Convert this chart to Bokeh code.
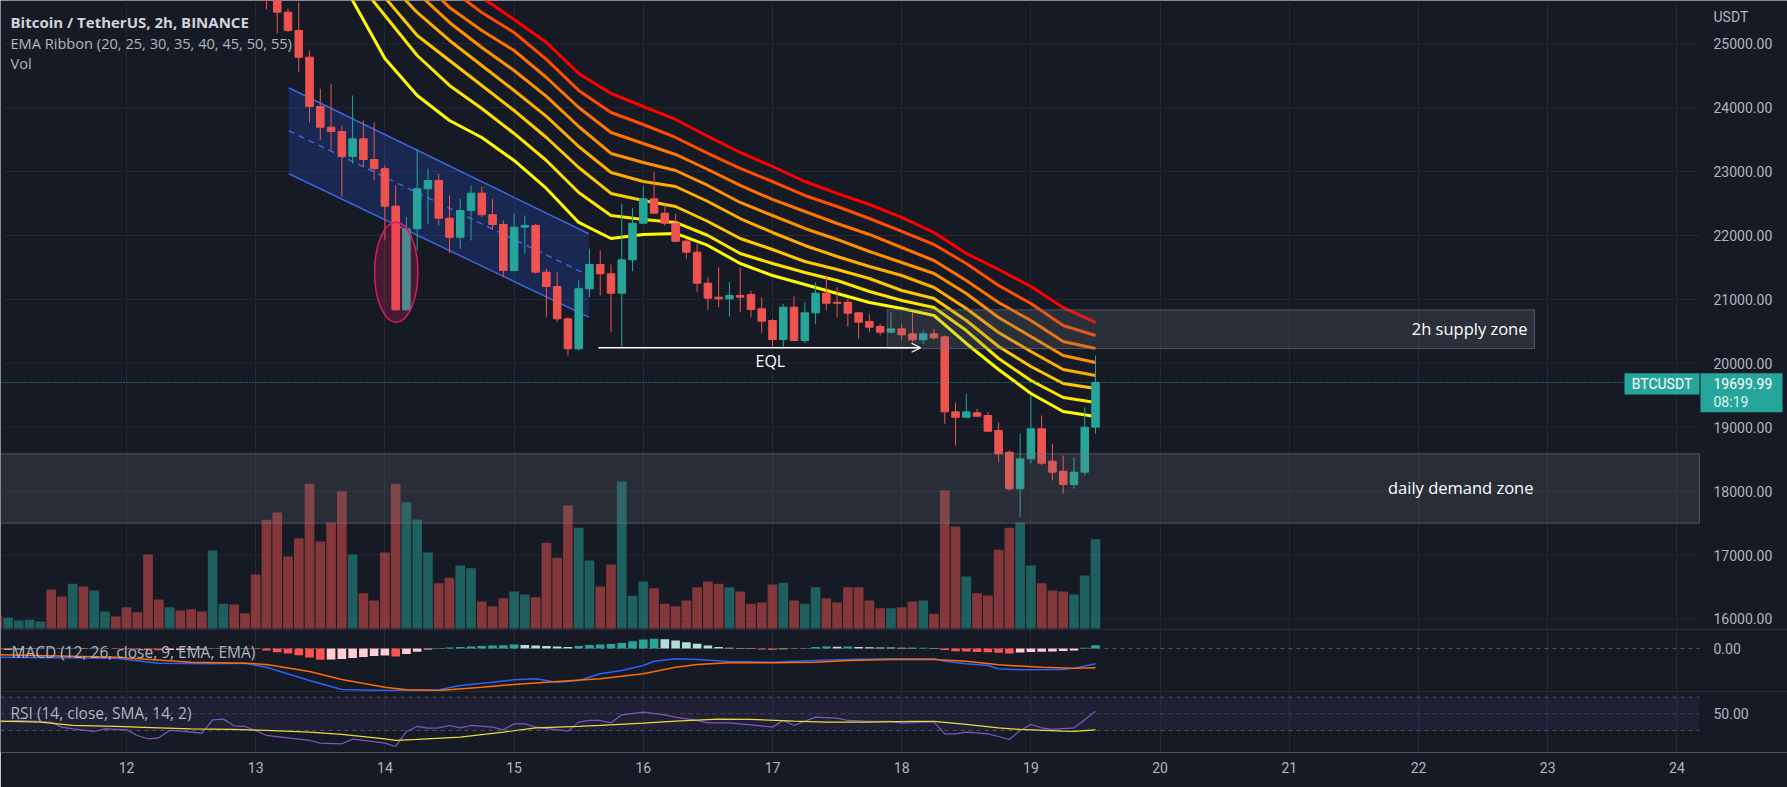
from bokeh.plotting import figure
from bokeh.models import Range1d, FixedTicker, Span, Label, Arrow, OpenHead
from bokeh.core.properties import value
from bokeh.embed import file_html
from bokeh.resources import INLINE

# ---------------- data ----------------
first_day = 11.0          # bar 0 opens on the 11th at 00:00
bars_per_day = 12         # 2h bars
day_ticks = list(range(11, 25))
price_ticks = [16000, 17000, 18000, 19000, 20000, 21000, 22000, 23000, 24000, 25000]

volume = [1300, 1070, 800, 870, 700, 3900, 3200, 4470, 4200, 3800,
          1700, 1200, 2130, 1630, 7400, 2900, 2130, 1800, 1930, 1700,
          7800, 2470, 2400, 1530, 5400, 10870, 11600, 7200, 9030, 14470,
          8700, 10600, 13730, 7400, 3530, 2800, 7600, 14470, 12630, 10900,
          7600, 4530, 5070, 6300, 6030, 2700, 2230, 3030, 3700, 3400,
          3130, 8570, 7070, 12300, 10070, 6800, 4200, 6400, 14700, 3270,
          4700, 4030, 2470, 2230, 2800, 4130, 4700, 4470, 4130, 3700,
          2470, 2600, 4400, 4570, 2800, 2470, 4130, 3000, 2600, 4130,
          4130, 2800, 2030, 2030, 2130, 2700, 2800, 1470, 13800, 10200,
          5200, 3530, 3300, 7870, 10070, 10600, 6300, 4530, 3800, 3700,
          3400, 5300, 8930]
volume_up = [0, 1, 1, 1, 1, 0, 0, 1, 0, 1,
             1, 0, 0, 0, 0, 0, 1, 0, 0, 0,
             1, 1, 0, 0, 0, 0, 0, 0, 0, 0,
             0, 0, 0, 1, 0, 0, 0, 0, 1, 1,
             1, 0, 0, 1, 1, 0, 0, 0, 1, 1,
             0, 0, 0, 0, 1, 1, 0, 0, 1, 1,
             1, 0, 0, 0, 0, 0, 0, 0, 1, 0,
             0, 0, 0, 1, 0, 1, 1, 0, 0, 0,
             0, 0, 0, 1, 0, 0, 1, 0, 0, 0,
             1, 0, 0, 0, 0, 1, 1, 0, 0, 0,
             1, 1, 1]

candle_first_bar = 25
open_ = [26200, 25900, 25495, 25208, 24790, 24019, 23695, 23627, 23236, 23513,
         23189, 23044, 22459, 20837, 22105, 22731, 22861, 22271, 21973, 22391,
         22662, 22324, 22172, 21452, 22130, 22157, 21426, 21202, 20696, 20227,
         21166, 21546, 21400, 21097, 21620, 22192, 22574, 22349, 22192, 21911,
         21739, 21253, 21034, 21009, 21061, 21077, 20853, 20670, 20372, 20878,
         20357, 20790, 21097, 20956, 20956, 20790, 20654, 20576, 20487, 20539,
         20461, 20367, 20461, 20414, 19240, 19156, 19225, 19183, 18948, 18609,
         18036, 18505, 18975, 18468, 18311, 18103, 18296, 19000]
high = [26300, 25960, 25552, 25651, 24895, 24296, 24374, 23721, 24191, 23800,
        23773, 23095, 22782, 22286, 23357, 23044, 22965, 22626, 22574, 22782,
        22767, 22574, 22235, 22340, 22313, 22183, 21478, 21426, 20721, 21296,
        21791, 21765, 21546, 22496, 22433, 22782, 22990, 22496, 22340, 21948,
        21870, 21347, 21504, 21270, 21494, 21139, 21034, 20696, 20931, 21045,
        20956, 21270, 21358, 21191, 21009, 20800, 20774, 20618, 20800, 20618,
        20800, 20513, 20534, 20435, 19390, 19522, 19287, 19235, 19078, 18635,
        18897, 19496, 19183, 18740, 18557, 18531, 19313, 20122]
low = [25540, 25161, 25182, 24556, 23773, 23488, 23330, 22599, 23127, 23069,
       22861, 21922, 20822, 20826, 21765, 22183, 22156, 21723, 21792, 21922,
       22286, 22089, 21347, 21452, 21713, 21400, 20721, 20643, 20122, 20200,
       21034, 21061, 20487, 20252, 21441, 22183, 22340, 22156, 21895, 21635,
       21113, 20837, 20878, 20732, 20800, 20721, 20471, 20242, 20227, 20346,
       20315, 20618, 20826, 20721, 20576, 20383, 20487, 20435, 20471, 20357,
       20330, 20305, 20367, 19053, 18713, 19156, 19156, 18922, 18452, 18009,
       17600, 18437, 18400, 18166, 17958, 18036, 18244, 18897]
close = [25900, 25495, 25208, 24790, 24019, 23695, 23627, 23236, 23513, 23189,
         23044, 22459, 20837, 22105, 22731, 22861, 22271, 21973, 22391, 22662,
         22324, 22172, 21452, 22130, 22157, 21426, 21202, 20696, 20227, 21166,
         21546, 21400, 21097, 21620, 22192, 22574, 22349, 22192, 21911, 21739,
         21253, 21019, 21009, 21061, 21035, 20842, 20659, 20372, 20878, 20357,
         20790, 21097, 20940, 20940, 20784, 20643, 20565, 20487, 20539, 20446,
         20367, 20461, 20399, 19240, 19156, 19240, 19172, 18937, 18583, 18036,
         18505, 18975, 18437, 18296, 18103, 18296, 19000, 19699.99]
last_price = 19699.99
countdown = "08:19"
symbol = "BTCUSDT"

# EMA ribbon, read at every third bar
ema_bars = [30, 33, 36, 39, 42, 45, 48, 51, 54, 57, 60, 63, 66, 69, 72, 75, 78, 81, 84,
            87, 90, 93, 96, 99, 102]
ema20 = [26460, 25678, 24770, 24191, 23800, 23534, 23174, 22736, 22204, 21953, 22016, 22032,
         21844, 21562, 21374, 21233, 21093, 20952, 20858, 20748, 20310, 19903, 19528, 19246, 19168]
ema25 = [26774, 26069, 25443, 24817, 24348, 23988, 23597, 23174, 22673, 22313, 22251, 22204,
         22000, 21719, 21562, 21421, 21296, 21124, 20983, 20873, 20513, 20075, 19731, 19465, 19387]
ema30 = [27008, 26382, 25725, 25130, 24739, 24348, 23956, 23534, 23064, 22658, 22548, 22454,
         22219, 21953, 21781, 21593, 21468, 21327, 21139, 21014, 20670, 20263, 19950, 19684, 19606]
ema35 = [27243, 26648, 26022, 25490, 25052, 24661, 24270, 23863, 23393, 22986, 22845, 22767,
         22532, 22266, 22047, 21844, 21672, 21515, 21374, 21186, 20858, 20482, 20185, 19903, 19809]
ema40 = [27478, 26930, 26304, 25803, 25334, 24942, 24582, 24176, 23706, 23284, 23143, 23017,
         22783, 22517, 22313, 22110, 21938, 21750, 21578, 21406, 21093, 20717, 20420, 20122, 20013]
ema45 = [27681, 27165, 26539, 26069, 25568, 25208, 24895, 24473, 24003, 23612, 23440, 23268,
         23033, 22783, 22564, 22376, 22188, 22016, 21812, 21609, 21296, 20952, 20670, 20341, 20232]
ema50 = [27869, 27400, 26852, 26382, 25866, 25490, 25177, 24755, 24270, 23925, 23737, 23534,
         23284, 23049, 22845, 22626, 22454, 22266, 22063, 21859, 21562, 21218, 20936, 20592, 20435]
ema55 = [28026, 27587, 27087, 26648, 26148, 25725, 25381, 25021, 24536, 24223, 24019, 23816,
         23550, 23299, 23080, 22845, 22658, 22485, 22282, 22047, 21719, 21468, 21202, 20873, 20639]

# MACD (12, 26, 9): histogram per bar, lines read at selected bars
macd_hist = [-30, -24, -18, -12, -6, 4, 8, 12, 10, 6, -4, -10, -16, -20, -32, -36, -30, -28,
             -24, -18, -6, -4, -8, -6,
             -10, -40, -74, -100, -134, -180, -226, -220, -210, -190, -170, -150, -140, -160,
             -110, -66, -20,
             10, 20, 30, 40, 50, 60, 66, 80, 70, 60, 50, 40, 30, 50, 70,
             80, 90, 110, 146, 180, 194, 186, 160, 126, 94, 60, 30, 14, 12, 10,
             -20, -26, -14, -6, 10, 30, 40, 36, 40, 30, 24, 20, 20, 16, 14, 16, 10,
             -30, -54, -60, -70, -74, -86, -100, -80, -70, -64, -60, -50, -40, 14, 64]
macd_bars = [0, 11, 15, 20, 23, 25, 29, 32, 36, 41, 43, 46, 48, 50, 52, 54, 56, 58, 60, 61,
             63, 65, 68, 72, 76, 79, 83, 87, 88, 90, 92, 93, 95, 99, 100, 102]
macd_line = [-174, -194, -294, -306, -294, -374, -640, -820, -840, -826, -740, -674, -626,
             -606, -674, -640, -506, -440, -340, -254, -206, -220, -260, -274, -240, -220,
             -206, -206, -254, -306, -340, -406, -426, -420, -394, -306]
signal_bars = [0, 11, 18, 23, 25, 29, 32, 36, 38, 41, 45, 48, 52, 56, 60, 63, 65, 68, 72, 76,
               79, 83, 87, 90, 93, 97, 100, 102]
signal_line = [-126, -174, -274, -294, -320, -460, -620, -774, -826, -840, -774, -720, -660,
               -606, -506, -374, -320, -286, -286, -274, -240, -220, -220, -254, -326, -374,
               -394, -386]

# RSI (14) and its SMA (14)
rsi_bars = [0, 2, 5, 6, 7, 9, 10, 12, 13, 14, 15, 16, 17, 19, 20, 21, 22, 23, 24, 25, 27, 29,
            30, 32, 33, 34, 36, 37, 38, 39, 40, 41, 42, 43, 44, 46, 47, 48, 49, 50, 52, 53,
            54, 55, 56, 57, 58, 60, 62, 63, 65, 66, 68, 70, 72, 73, 74, 76, 78, 79, 81, 83,
            84, 86, 87, 88, 89, 90, 92, 93, 94, 95, 96, 97, 98, 100, 101, 102]
rsi = [40, 42, 40, 34, 32, 28.8, 32, 30.8, 24, 20, 21.2, 30, 29.2, 26.8, 42.8, 43.6, 35.6,
       34.8, 30, 24, 21.2, 18, 14.8, 14, 19.6, 18, 14.8, 10.8, 28.8, 34.8, 32.8, 33.2, 36,
       33.2, 36, 34, 30.8, 38, 38, 34, 30.8, 29.2, 40, 42, 42, 39.2, 48.8, 52, 48.8, 46, 42,
       39.2, 39.2, 36.8, 34, 42, 36, 46, 44.8, 42, 40.8, 40.8, 38.8, 40, 40, 26, 26, 28, 26,
       22.8, 19.2, 30, 37.2, 33.2, 31.2, 33.2, 42.8, 53.2]
rsi_ma_bars = [0, 4, 7, 11, 15, 18, 22, 25, 29, 32, 36, 37, 39, 43, 47, 50, 54, 56, 60, 63,
               67, 70, 74, 77, 81, 85, 87, 90, 93, 95, 99, 100, 102]
rsi_ma = [41.2, 40, 36, 34.8, 33.2, 32, 31.2, 30, 28, 25.2, 20, 18, 19.2, 22, 28, 33.2, 34.8,
          36, 38.8, 41.2, 43.6, 43.2, 41.2, 40, 40, 40.8, 40.8, 37.2, 33.2, 31.2, 29.2, 28.8,
          30.8]
rsi_levels = [70, 50, 30]

# drawings
channel_days = [13.256, 15.578]
channel_top = [24312, 22027]
channel_bottom = [22966, 20722]
circle_day, circle_price, circle_w_days, circle_h_price = 14.0875, 21426, 0.335, 1565
eql_days = [15.653, 18.146]
eql_price = 20243
supply_days = [17.888, 22.898]
supply_prices = [20230, 20837]
demand_prices = [17498, 18584]

# ---------------- layout helpers (screen px -> data) ----------------
W, H = 1787, 787
PANE_R, FR_B = 1699, 752   # right edge of the chart panes, bottom of the frame


def dx(px):
    return 12 + (px - 126) / 129.2


def py(px):
    return 25000 - (px - 43.3) / 0.0639


def bar_day(i):
    return first_day + i / bars_per_day


X0, XR = dx(0), dx(PANE_R)
BG = "#161a25"
UP, DOWN = "#26a69a", "#ef5350"
TXT = "#b2b5be"
GRID = "#242834"
FONT = "Open Sans"

p = figure(width=W, height=H, x_range=Range1d(dx(0), dx(W)),
           y_range=Range1d(py(FR_B), py(0)), output_backend="svg", toolbar_location=None,
           y_axis_location=None, min_border_left=0, min_border_top=0,
           min_border_right=0, min_border_bottom=H - FR_B,
           background_fill_color=BG, border_fill_color=BG, outline_line_color=None)

p.extra_y_ranges = {
    "vol": Range1d(-(FR_B - 628) * 100, 628 * 100),
    "macd": Range1d(-(FR_B - 648) * 20, 648 * 20),
    "rsi": Range1d(50 - (FR_B - 713.3) * 1.2, 50 + 713.3 * 1.2),
}

# x axis & vertical grid
xax = p.xaxis[0]
xax.ticker = FixedTicker(ticks=day_ticks)
xax.axis_line_color = None
xax.major_tick_line_color = None
xax.minor_tick_line_color = None
xax.major_tick_out = 0
xax.major_tick_in = 0
xax.major_label_standoff = 9
xax.major_label_text_color = TXT
xax.major_label_text_font = "Roboto"
xax.major_label_text_font_size = "14px"
p.xgrid.ticker = FixedTicker(ticks=day_ticks)
p.xgrid.grid_line_color = GRID
p.ygrid.visible = False

# horizontal price grid (main pane only) + price scale labels
p.segment(x0=[X0] * len(price_ticks), y0=price_ticks, x1=[XR] * len(price_ticks),
          y1=price_ticks, line_color=GRID, line_width=1)
p.text(x=[dx(1713)] * len(price_ticks), y=price_ticks, text=["%.2f" % t for t in price_ticks],
       text_font=value("Roboto"), text_font_size="14px", text_color=TXT,
       text_baseline="middle", text_align="left")

# ---------------- volume ----------------
n = len(volume)
vol_days = [bar_day(i) for i in range(n)]
vol_cols = [UP if u else DOWN for u in volume_up]
p.vbar(x=vol_days, top=volume, bottom=0, width=0.9 / bars_per_day, y_range_name="vol",
       fill_color=vol_cols, fill_alpha=0.5, line_color=None)

# ---------------- channel ----------------
ch_mid = [(a + b) / 2 for a, b in zip(channel_top, channel_bottom)]
p.patch(x=channel_days + channel_days[::-1], y=channel_top + channel_bottom[::-1],
        fill_color="#2962ff", fill_alpha=0.2, line_color=None)
p.line(channel_days, channel_top, line_color="#3f63e0", line_width=1.5)
p.line(channel_days, channel_bottom, line_color="#3f63e0", line_width=1.5)
p.line(channel_days, ch_mid, line_color="#3f63e0", line_width=1.5, line_dash="6 5")

# ---------------- EMA ribbon ----------------
ema_days = [bar_day(i) for i in ema_bars]
ribbon = [ema55, ema50, ema45, ema40, ema35, ema30, ema25, ema20]
ribbon_cols = ["#ff0000", "#ff4d00", "#ff7300", "#ff9100", "#ffad00", "#ffc800", "#ffe400",
               "#ffff00"]
for vals, col in zip(ribbon, ribbon_cols):
    p.line(ema_days, vals, line_color=col, line_width=3, line_join="round")

# ---------------- candles ----------------
c_days = [bar_day(candle_first_bar + k) for k in range(len(close))]
c_cols = [UP if c >= o else DOWN for o, c in zip(open_, close)]
p.segment(x0=c_days, y0=low, x1=c_days, y1=high, line_color=c_cols, line_width=1)
p.vbar(x=c_days, top=[max(o, c) for o, c in zip(open_, close)],
       bottom=[min(o, c) for o, c in zip(open_, close)], width=0.7 / bars_per_day,
       fill_color=c_cols, line_color=c_cols, line_width=1)

# circle around the capitulation candles
p.ellipse(x=[circle_day], y=[circle_price], width=[circle_w_days], height=[circle_h_price],
          fill_color="#e91e63", fill_alpha=0.22, line_color="#d81b60", line_width=1.5)

# zones
p.quad(left=[X0 - 0.1], right=[XR], bottom=[demand_prices[0]], top=[demand_prices[1]],
       fill_color="#787b86", fill_alpha=0.2, line_color="#787b86", line_alpha=0.55,
       line_width=1)
p.quad(left=[supply_days[0]], right=[supply_days[1]], bottom=[supply_prices[0]],
       top=[supply_prices[1]], fill_color="#787b86", fill_alpha=0.22,
       line_color="#787b86", line_alpha=0.55, line_width=1)

# EQL arrow
p.add_layout(Arrow(x_start=eql_days[0], y_start=eql_price, x_end=eql_days[1], y_end=eql_price,
                   line_color="white", line_width=1.3,
                   end=OpenHead(size=9, line_color="white", line_width=1.3)))

# current price: dotted line, symbol tag and price box on the scale
p.segment(x0=[X0], y0=[last_price], x1=[dx(1624)], y1=[last_price], line_color=UP,
          line_dash="1 2", line_width=1)
p.quad(left=[dx(1624)], right=[dx(1699)], top=[py(372.7)], bottom=[py(394)],
       fill_color=UP, line_color=None)
p.quad(left=[dx(1700)], right=[dx(1782)], top=[py(372.7)], bottom=[py(411.7)],
       fill_color=UP, line_color=None)

# ---------------- MACD pane ----------------
h_cols = []
prev = 0
for h in macd_hist:
    if h >= 0:
        h_cols.append("#26a69a" if h > prev else "#b2dfdb")
    else:
        h_cols.append("#ff5252" if h < prev else "#ffcdd2")
    prev = h
p.vbar(x=vol_days, top=macd_hist, bottom=0, width=0.8 / bars_per_day, y_range_name="macd",
       fill_color=h_cols, line_color=None)
p.segment(x0=[X0], y0=[0], x1=[XR], y1=[0], y_range_name="macd", line_color="#787b86",
          line_alpha=0.6, line_dash="4 4", line_width=1)
p.line([bar_day(i) for i in macd_bars], macd_line, y_range_name="macd", line_color="#2962ff",
       line_width=1.5)
p.line([bar_day(i) for i in signal_bars], signal_line, y_range_name="macd",
       line_color="#ff6d00", line_width=1.5)

# ---------------- RSI pane ----------------
p.quad(left=[X0 - 0.1], right=[XR], bottom=[rsi_levels[2]], top=[rsi_levels[0]],
       y_range_name="rsi", fill_color="#7e57c2", fill_alpha=0.1, line_color=None)
p.segment(x0=[X0] * 3, y0=rsi_levels, x1=[XR] * 3, y1=rsi_levels, y_range_name="rsi",
          line_color="#787b86", line_alpha=[0.6, 0.45, 0.6], line_dash="4 4", line_width=1)
p.line([bar_day(i) for i in rsi_bars], rsi, y_range_name="rsi", line_color="#7e57c2",
       line_width=1.2)
p.line([bar_day(i) for i in rsi_ma_bars], rsi_ma, y_range_name="rsi", line_color="#e8dc3c",
       line_width=1.2)

# pane separators
for loc in (380, -860):
    p.add_layout(Span(location=loc, dimension="width", y_range_name="macd",
                      line_color="#2a2e39", line_width=1))


# ---------------- texts ----------------
def lab(x, y, text, size="14px", color=TXT, align="left", style="normal", font=FONT):
    p.add_layout(Label(x=x, y=y, text=text, text_font=font, text_font_size=size,
                       text_color=color, text_align=align, text_baseline="middle",
                       text_font_style=style))


lab(dx(10), py(21), "Bitcoin / TetherUS, 2h, BINANCE", size="15px", color="#d1d4dc",
    style="bold")
lab(dx(10), py(42), "EMA Ribbon (20, 25, 30, 35, 40, 45, 50, 55)", size="14.6px")
lab(dx(10), py(62), "Vol", size="14.6px")
lab(dx(11), py(651), "MACD (12, 26, close, 9, EMA, EMA)", size="15.5px")
lab(dx(10), py(712), "RSI (14, close, SMA, 14, 2)", size="15.5px")
lab(dx(755), py(360), "EQL", size="16px", color="#ffffff")
lab(dx(1527), py(328), "2h supply zone", size="16.5px", color="#ffffff", align="right")
lab(dx(1533), py(487), "daily demand zone", size="16.5px", color="#ffffff", align="right")
lab(dx(1713), py(16), "USDT", size="14px", font="Roboto")
lab(dx(1713), py(648), "0.00", size="14px", font="Roboto")
lab(dx(1713), py(713.3), "50.00", size="14px", font="Roboto")
lab(dx(1661.5), py(383.5), symbol, size="14px", color="#ffffff", align="center", font="Roboto")
lab(dx(1713), py(383), "%.2f" % last_price, size="14px", color="#ffffff", font="Roboto")
lab(dx(1713), py(401), countdown, size="14px", color="#e0f2f1", font="Roboto")

open("out.html", "w").write(file_html(p, INLINE))
